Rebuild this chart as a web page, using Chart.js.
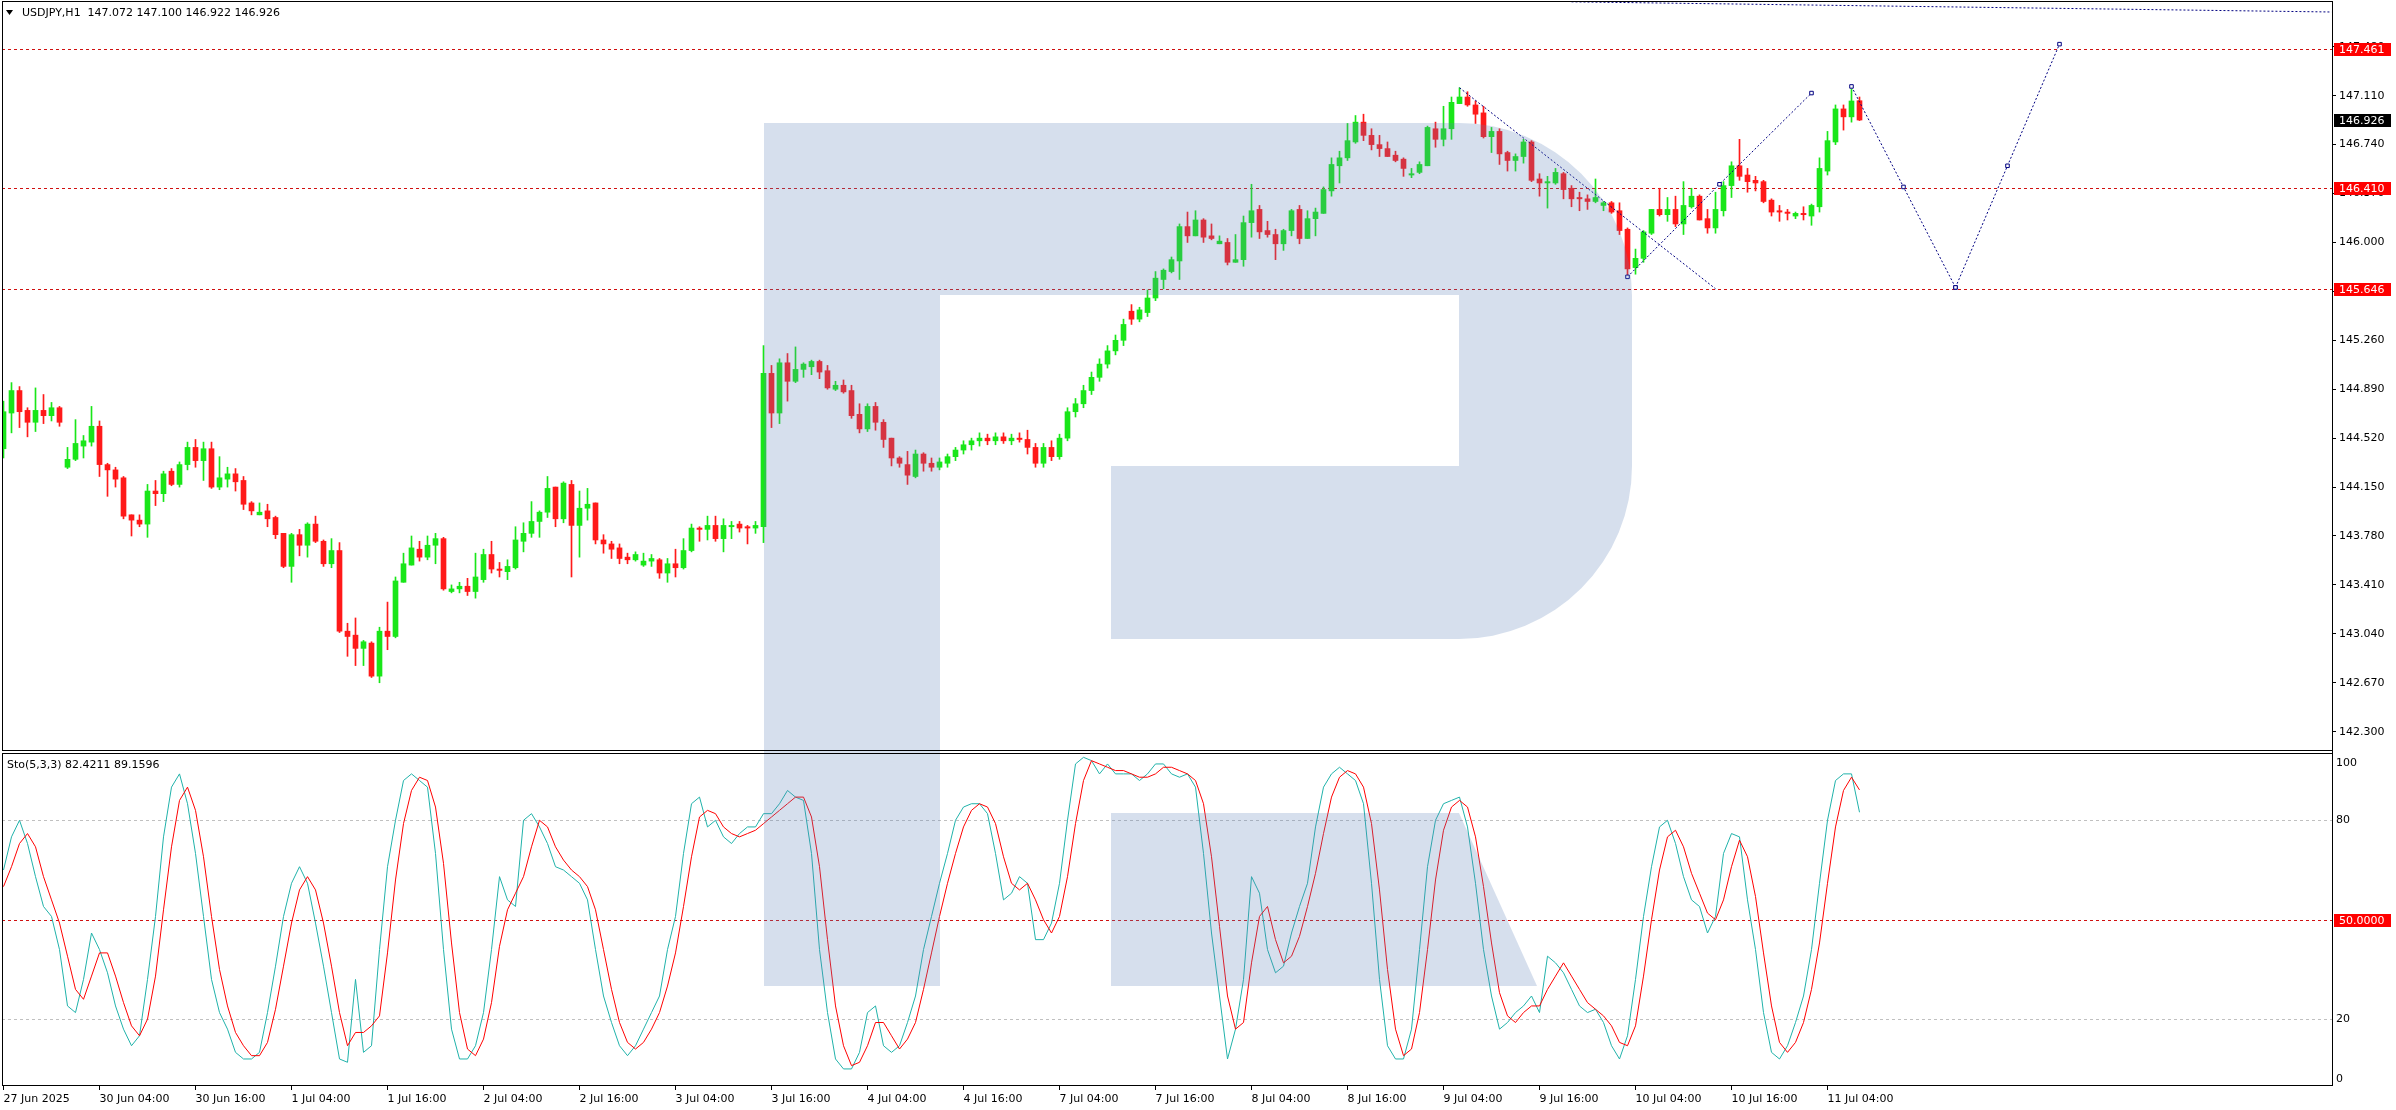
<!DOCTYPE html>
<html>
<head>
<meta charset="utf-8">
<title>USDJPY,H1</title>
<script src="https://cdn.jsdelivr.net/npm/chart.js@4.4.1/dist/chart.umd.min.js"></script>
<style>
html,body{margin:0;padding:0;background:#fff;overflow:hidden;}
#wrap{position:relative;width:2396px;height:1110px;}
canvas{display:block;}
</style>
</head>
<body>
<div id="wrap"><canvas id="chart" width="2396" height="1110"></canvas></div>
<script>
// ================= DATA =================
const symbolName = 'USDJPY,H1';
const headerOHLC = ['147.072', '147.100', '146.922', '146.926'];
const stochName = 'Sto(5,3,3)';
const stochHeaderValues = ['82.4211', '89.1596'];

const xTickLabels = ['27 Jun 2025','30 Jun 04:00','30 Jun 16:00','1 Jul 04:00','1 Jul 16:00','2 Jul 04:00','2 Jul 16:00','3 Jul 04:00','3 Jul 16:00','4 Jul 04:00','4 Jul 16:00','7 Jul 04:00','7 Jul 16:00','8 Jul 04:00','8 Jul 16:00','9 Jul 04:00','9 Jul 16:00','10 Jul 04:00','10 Jul 16:00','11 Jul 04:00'];
const xTickBars = [0,12,24,36,48,60,72,84,96,108,120,132,144,156,168,180,192,204,216,228];

const priceTicks = [142.300,142.670,143.040,143.410,143.780,144.150,144.520,144.890,145.260,145.630,146.000,146.370,146.740,147.110,147.480];
const priceLevels = [147.461, 146.410, 145.646];
const currentPrice = 146.926;

const stochTicks = [0, 20, 80, 100];
const stochGrayLevels = [20, 80];
const stochRedLevels = [50];

const opens = [
144.44,144.71,144.88,144.73,144.64,144.73,144.69,144.75,144.30,144.36,
144.46,144.49,144.61,144.32,144.28,144.22,143.94,143.90,143.87,144.12,
144.10,144.27,144.17,144.32,144.45,144.35,144.44,144.15,144.21,144.25,
144.20,144.03,143.94,143.97,143.92,143.80,143.55,143.79,143.71,143.87,
143.74,143.57,143.67,143.06,143.03,142.93,142.97,142.72,143.06,143.02,
143.43,143.56,143.68,143.62,143.71,143.76,143.36,143.38,143.40,143.36,
143.45,143.64,143.53,143.51,143.54,143.74,143.80,143.89,143.96,144.15,
143.91,144.17,143.86,143.99,144.03,143.75,143.72,143.69,143.62,143.60,
143.56,143.59,143.60,143.50,143.57,143.54,143.67,143.84,143.83,143.86,
143.76,143.85,143.87,143.85,143.84,143.85,145.01,144.71,145.09,144.95,
145.04,145.06,145.10,145.03,144.89,144.92,144.88,144.70,144.59,144.76,
144.64,144.52,144.37,144.32,144.23,144.40,144.33,144.30,144.33,144.38,
144.43,144.47,144.50,144.52,144.50,144.53,144.50,144.52,144.51,144.45,
144.33,144.45,144.38,144.52,144.72,144.78,144.88,144.98,145.08,145.18,
145.26,145.48,145.42,145.47,145.58,145.72,145.78,145.86,146.12,146.05,
146.17,146.05,145.99,146.00,145.85,145.87,146.15,146.25,146.09,146.06,
145.99,146.09,146.25,146.03,146.18,146.22,146.39,146.58,146.64,146.76,
146.91,146.81,146.74,146.71,146.66,146.63,146.51,146.53,146.58,146.86,
146.78,146.86,147.05,147.10,147.04,146.98,146.80,146.84,146.68,146.62,
146.65,146.76,146.48,146.45,146.45,146.52,146.41,146.34,146.33,146.31,
146.28,146.30,146.24,146.10,145.81,145.88,146.07,146.25,146.21,146.25,
146.14,146.27,146.35,146.18,146.11,146.24,146.43,146.58,146.51,146.47,
146.46,146.32,146.24,146.23,146.20,146.22,146.20,146.27,146.54,146.76,
147.01,146.95,147.072];

const highs = [
144.80,144.94,144.91,144.75,144.90,144.85,144.79,144.76,144.45,144.66,
144.54,144.76,144.65,144.33,144.30,144.23,143.94,143.94,144.17,144.20,
144.27,144.29,144.34,144.49,144.51,144.49,144.49,144.38,144.30,144.29,
144.23,144.04,144.03,144.02,143.93,143.80,143.80,143.83,143.88,143.93,
143.75,143.76,143.73,143.12,143.16,142.99,142.98,143.09,143.28,143.47,
143.65,143.78,143.74,143.78,143.80,143.77,143.41,143.43,143.46,143.65,
143.68,143.74,143.58,143.60,143.85,143.88,144.04,143.97,144.23,144.15,
144.19,144.20,144.12,144.14,144.03,143.79,143.74,143.72,143.65,143.66,
143.65,143.64,143.61,143.61,143.68,143.76,143.87,143.85,143.93,143.93,
143.91,143.89,143.89,143.86,143.89,145.22,145.07,145.12,145.16,145.21,
145.09,145.11,145.11,145.07,144.95,144.96,144.92,144.78,144.78,144.79,
144.66,144.52,144.38,144.42,144.43,144.41,144.37,144.37,144.40,144.45,
144.50,144.52,144.56,144.55,144.56,144.56,144.55,144.56,144.58,144.48,
144.48,144.50,144.55,144.75,144.82,144.92,145.02,145.12,145.22,145.30,
145.42,145.53,145.51,145.64,145.78,145.80,145.89,146.14,146.23,146.24,
146.18,146.14,146.05,146.03,146.06,146.20,146.44,146.28,146.16,146.10,
146.10,146.25,146.28,146.24,146.26,146.42,146.64,146.69,146.90,146.96,
146.97,146.86,146.81,146.76,146.69,146.64,146.56,146.61,146.88,146.91,
147.03,147.10,147.17,147.14,147.07,147.03,146.87,146.86,146.69,146.67,
146.78,146.77,146.52,146.50,146.56,146.53,146.43,146.38,146.36,146.48,
146.31,146.31,146.30,146.11,145.95,146.09,146.25,146.41,146.34,146.35,
146.46,146.41,146.36,146.25,146.38,146.46,146.61,146.78,146.56,146.50,
146.47,146.33,146.28,146.25,146.23,146.27,146.29,146.64,146.84,147.04,
147.04,147.16,147.100];

const lows = [
144.37,144.56,144.60,144.53,144.57,144.63,144.65,144.61,144.29,144.35,
144.37,144.46,144.23,144.08,144.15,143.91,143.78,143.85,143.77,144.01,
144.04,144.16,144.15,144.28,144.30,144.20,144.14,144.13,144.15,144.12,
143.98,143.94,143.94,143.85,143.76,143.54,143.43,143.63,143.62,143.73,
143.55,143.54,143.05,142.87,142.80,142.80,142.71,142.67,142.92,143.01,
143.43,143.56,143.59,143.60,143.57,143.37,143.35,143.35,143.33,143.31,
143.43,143.50,143.47,143.45,143.53,143.66,143.77,143.77,143.92,143.85,
143.88,143.47,143.62,143.90,143.72,143.65,143.61,143.57,143.57,143.59,
143.55,143.55,143.46,143.43,143.47,143.53,143.66,143.74,143.75,143.74,
143.66,143.76,143.81,143.72,143.80,143.73,144.60,144.63,144.80,144.94,
144.98,145.00,144.97,144.89,144.88,144.86,144.67,144.56,144.57,144.58,
144.45,144.31,144.30,144.17,144.22,144.27,144.27,144.28,144.30,144.35,
144.40,144.43,144.46,144.47,144.47,144.48,144.47,144.49,144.40,144.30,
144.30,144.35,144.36,144.50,144.68,144.75,144.85,144.95,145.05,145.15,
145.22,145.38,145.40,145.44,145.56,145.65,145.77,145.72,146.00,146.05,
146.00,146.02,145.99,145.83,145.85,145.82,146.04,146.03,146.04,145.87,
145.94,146.05,145.99,146.03,146.05,146.22,146.35,146.45,146.62,146.75,
146.77,146.70,146.65,146.65,146.61,146.50,146.49,146.52,146.58,146.72,
146.73,146.78,147.05,147.03,146.90,146.79,146.68,146.59,146.54,146.54,
146.60,146.46,146.35,146.26,146.44,146.33,146.27,146.24,146.25,146.30,
146.24,146.22,146.06,145.75,145.76,145.85,146.06,146.20,146.16,146.12,
146.06,146.26,146.17,146.07,146.07,146.20,146.34,146.47,146.38,146.39,
146.30,146.20,146.16,146.17,146.18,146.17,146.13,146.23,146.51,146.74,
146.85,146.91,146.922];

const closes = [
144.72,144.88,144.72,144.64,144.73,144.69,144.75,144.64,144.36,144.48,
144.50,144.61,144.32,144.28,144.21,143.93,143.90,143.87,144.12,144.10,
144.25,144.17,144.32,144.45,144.35,144.44,144.15,144.22,144.25,144.19,
144.02,143.97,143.96,143.91,143.79,143.55,143.79,143.71,143.87,143.74,
143.57,143.67,143.06,143.02,142.93,142.98,142.72,143.06,143.02,143.44,
143.57,143.69,143.62,143.71,143.76,143.38,143.38,143.40,143.36,143.47,
143.64,143.53,143.52,143.55,143.75,143.80,143.89,143.96,144.14,143.91,
144.18,143.86,143.99,144.02,143.75,143.72,143.68,143.61,143.60,143.64,
143.59,143.61,143.50,143.57,143.54,143.67,143.84,143.83,143.86,143.76,
143.86,143.86,143.84,143.84,143.86,145.01,144.71,145.09,144.95,145.04,
145.08,145.10,145.02,144.90,144.92,144.87,144.69,144.59,144.76,144.64,
144.51,144.37,144.33,144.24,144.40,144.33,144.30,144.34,144.38,144.43,
144.47,144.50,144.52,144.50,144.53,144.50,144.52,144.51,144.45,144.33,
144.45,144.38,144.52,144.72,144.78,144.88,144.98,145.08,145.18,145.26,
145.38,145.42,145.49,145.58,145.73,145.79,145.87,146.12,146.05,146.17,
146.04,146.03,146.01,145.85,145.87,146.15,146.24,146.08,146.06,145.99,
146.09,146.24,146.03,146.18,146.23,146.40,146.59,146.64,146.77,146.91,
146.81,146.74,146.71,146.65,146.62,146.56,146.52,146.59,146.87,146.78,
146.86,147.06,147.10,147.04,146.97,146.80,146.84,146.67,146.62,146.65,
146.76,146.47,146.45,146.46,146.53,146.40,146.33,146.33,146.31,146.34,
146.30,146.23,146.09,145.80,145.88,146.08,146.25,146.21,146.25,146.14,
146.28,146.35,146.17,146.11,146.25,146.43,146.58,146.50,146.46,146.45,
146.31,146.23,146.23,146.22,146.22,146.21,146.28,146.56,146.77,147.01,
146.95,147.07,146.926];

const stochMain = [
65,75,80,73,63,54,51,41,24,22,32,46,41,34,24,17,12,15,32,51,75,90,94,
85,70,51,32,22,17,10,8,8,10,22,36,51,61,66,61,49,36,22,8,7,
32,10,12,41,66,80,92,94,92,90,70,41,17,8,8,12,22,41,63,56,54,
80,82,78,73,66,65,63,61,56,41,27,19,12,9,12,17,22,27,41,51,70,85,
87,78,80,75,73,76,78,78,82,82,85,89,87,86,70,41,22,8,5,5,10,
22,24,12,10,12,19,27,41,51,61,70,80,84,85,85,82,70,56,58,63,61,
44,44,49,61,80,97,99,98,94,97,94,94,94,92,94,97,97,94,93,94,90,
70,46,27,8,17,32,63,58,41,34,36,46,54,61,78,90,94,96,94,92,85,
61,32,12,8,8,17,41,66,80,85,86,87,78,61,41,27,17,19,22,24,27,22,
39,37,34,29,24,22,23,19,12,8,15,32,51,66,78,80,73,63,56,54,46,
51,70,76,75,56,41,22,10,8,12,19,27,41,61,80,92,94,94,82.42];

const stochSignal = [
60,66,73,76,72,63,56,49,39,29,26,33,40,40,33,25,18,15,20,33,53,72,86,
90,83,69,51,35,24,16,12,9,9,13,23,36,49,59,63,59,49,36,22,12,
16,16,18,21,40,62,79,89,93,92,84,67,43,22,11,9,14,25,42,53,58,
63,72,80,78,72,68,65,63,60,53,41,29,19,13,11,13,17,22,30,40,54,69,
81,83,82,78,76,75,76,77,79,81,83,85,87,87,81,66,44,24,12,6,7,
12,19,19,15,11,14,19,29,40,51,61,70,78,83,85,84,79,69,61,59,61,
56,50,46,51,63,79,92,98,97,96,95,95,94,93,93,94,96,96,95,94,92,
85,69,48,27,17,19,37,51,54,44,37,39,45,54,64,76,87,93,95,94,90,
79,59,35,17,9,11,22,41,62,77,84,86,84,75,60,43,28,21,19,22,24,24,
29,33,37,33,29,25,23,21,18,13,12,18,33,50,65,75,77,72,64,58,52,
50,56,66,74,69,57,40,24,13,10,13,19,29,43,61,78,89,93,89.16];

// analyst objects: (bar index, price); anchors and middle handle of selected lines
const trendDown = [{x:182, y:147.17}, {x:214, y:145.65}];
const trendUp = [{x:203, y:145.74}, {x:214.5, y:146.44}, {x:226, y:147.13}];
const forecastA = [{x:231, y:147.18}, {x:237.5, y:146.42}, {x:244, y:145.66}];
const forecastB = [{x:244, y:145.66}, {x:250.5, y:146.58}, {x:257, y:147.50}];
const topLine = [{x:196, y:147.82}, {x:291, y:147.743}];

// ================= CHART =================
const BULL = '#19e619';
const BEAR = '#ff1a1a';
const NAVY = '#000080';
const FONT = '11px "DejaVu Sans", Tahoma, Verdana, sans-serif';
const candleColors = opens.map((o, i) => closes[i] >= o ? BULL : BEAR);

function fixFit(w, h) {
  return function (s) {
    if (w !== null) s.width = w;
    if (h !== null) s.height = h;
    s.paddingTop = 0; s.paddingBottom = 0; s.paddingLeft = 0; s.paddingRight = 0;
  };
}

const mtPlugin = {
  id: 'mt',
  beforeDatasetsDraw(chart) {
    const {ctx, chartArea: ca, scales} = chart;
    ctx.save();
    ctx.lineWidth = 1;
    ctx.setLineDash([3, 3]);
    const hline = (py, color) => {
      const y = Math.round(py) + 0.5;
      ctx.strokeStyle = color;
      ctx.beginPath(); ctx.moveTo(ca.left, y); ctx.lineTo(ca.right, y); ctx.stroke();
    };
    stochGrayLevels.forEach(v => hline(scales.yS.getPixelForValue(v), '#c0c0c0'));
    stochRedLevels.forEach(v => hline(scales.yS.getPixelForValue(v), '#d01010'));
    priceLevels.forEach(v => hline(scales.y.getPixelForValue(v), '#d01010'));
    ctx.restore();
  },
  afterDatasetsDraw(chart) {
    // broker watermark overlay
    const ctx = chart.ctx;
    ctx.save();
    ctx.fillStyle = 'rgba(91,128,184,0.25)';
    ctx.beginPath();
    ctx.moveTo(764, 123);
    ctx.lineTo(1459, 123);
    ctx.arc(1459, 296, 173, -Math.PI / 2, 0);
    ctx.lineTo(1632, 466);
    ctx.arc(1459, 466, 173, 0, Math.PI / 2);
    ctx.lineTo(1111, 639);
    ctx.lineTo(1111, 466);
    ctx.lineTo(1459, 466);
    ctx.lineTo(1459, 295);
    ctx.lineTo(940, 295);
    ctx.lineTo(940, 986);
    ctx.lineTo(764, 986);
    ctx.closePath();
    ctx.moveTo(1111, 813);
    ctx.lineTo(1459, 813);
    ctx.lineTo(1537, 986);
    ctx.lineTo(1111, 986);
    ctx.closePath();
    ctx.fill();
    ctx.restore();
  },
  afterDraw(chart) {
    const {ctx, chartArea: ca, scales} = chart;
    const y = scales.y, ys = scales.yS;
    ctx.save();
    ctx.setLineDash([]);
    ctx.strokeStyle = '#000';
    ctx.lineWidth = 1;
    ctx.strokeRect(ca.left + 0.5, y.top + 0.5, ca.right - ca.left - 1, y.bottom - y.top - 1);
    ctx.strokeRect(ca.left + 0.5, ys.top + 2.5, ca.right - ca.left - 1, ys.bottom - ys.top - 3);
    ctx.beginPath(); ctx.moveTo(ca.right - 0.5, ca.top); ctx.lineTo(ca.right - 0.5, ca.bottom); ctx.stroke();

    ctx.font = FONT;
    ctx.textBaseline = 'middle';
    ctx.textAlign = 'left';
    ctx.fillStyle = '#000';
    stochTicks.forEach(v => {
      let py = ys.getPixelForValue(v);
      py = Math.min(Math.max(py, ys.top + 12), ys.bottom - 7);
      ctx.fillText(String(v), ca.right + 3, py);
    });
    const box = (py, text, bg) => {
      const top = Math.round(py) - 6;
      ctx.fillStyle = bg;
      ctx.fillRect(ca.right + 1, top, 57, 13);
      ctx.fillStyle = '#fff';
      ctx.fillText(text, ca.right + 6, top + 7);
    };
    priceLevels.forEach(v => box(y.getPixelForValue(v), v.toFixed(3), '#ff0000'));
    stochRedLevels.forEach(v => box(ys.getPixelForValue(v), v.toFixed(4), '#ff0000'));
    box(y.getPixelForValue(currentPrice), currentPrice.toFixed(3), '#000000');

    ctx.fillStyle = '#000';
    ctx.beginPath(); ctx.moveTo(6, 10); ctx.lineTo(13, 10); ctx.lineTo(9.5, 15); ctx.closePath(); ctx.fill();
    ctx.fillText(symbolName + '  ' + headerOHLC.join(' '), 22, 13);
    ctx.fillText(stochName + ' ' + stochHeaderValues.join(' '), 7, ys.top + 14);
    ctx.restore();
  }
};

const axisFont = {family: '"DejaVu Sans", Tahoma, Verdana, sans-serif', size: 11};

function objLine(label, data, handles) {
  return {
    type: 'line', label, data, yAxisID: 'y', xAxisID: 'x',
    borderColor: NAVY, borderWidth: 1, borderDash: [2, 2], fill: false, tension: 0,
    pointRadius: handles ? 2.5 : 0, pointStyle: 'rect',
    pointBackgroundColor: '#ffffff', pointBorderColor: NAVY, pointBorderWidth: 1
  };
}

const cfg = {
  type: 'bar',
  data: {
    datasets: [
      objLine('trendDown', trendDown, false),
      objLine('trendUp', trendUp, true),
      objLine('forecastA', forecastA, true),
      objLine('forecastB', forecastB, true),
      objLine('topLine', topLine, false),
      {
        type: 'line', label: 'Signal', yAxisID: 'yS', xAxisID: 'x',
        data: stochSignal.map((v, i) => ({x: i, y: v})),
        borderColor: '#ff0000', borderWidth: 1, pointRadius: 0, tension: 0, fill: false
      },
      {
        type: 'line', label: 'Main', yAxisID: 'yS', xAxisID: 'x',
        data: stochMain.map((v, i) => ({x: i, y: v})),
        borderColor: '#20b2aa', borderWidth: 1, pointRadius: 0, tension: 0, fill: false
      },
      {
        type: 'bar', label: 'body', yAxisID: 'y', xAxisID: 'x',
        data: opens.map((o, i) => ({x: i, y: [o, closes[i]]})),
        backgroundColor: candleColors, borderWidth: 0, barThickness: 5, minBarLength: 1, grouped: false
      },
      {
        type: 'bar', label: 'wick', yAxisID: 'y', xAxisID: 'x',
        data: lows.map((l, i) => ({x: i, y: [l, highs[i]]})),
        backgroundColor: candleColors, borderWidth: 0, barThickness: 1, minBarLength: 1, grouped: false
      }
    ]
  },
  options: {
    responsive: false,
    animation: false,
    devicePixelRatio: 1,
    events: [],
    layout: {padding: {left: 2, top: 1, right: 0, bottom: 0}, autoPadding: false},
    plugins: {legend: {display: false}, tooltip: {enabled: false}},
    scales: {
      x: {
        type: 'linear', position: 'bottom', offset: false,
        min: -0.1875, max: 291.1875,
        afterBuildTicks: (s) => { s.ticks = xTickBars.map(v => ({value: v})); },
        afterFit: fixFit(null, 24),
        ticks: {
          autoSkip: false, maxRotation: 0, minRotation: 0, align: 'start', padding: 3,
          color: '#000', font: axisFont,
          callback: (v, idx) => xTickLabels[idx]
        },
        grid: {display: true, drawOnChartArea: false, drawTicks: true, tickLength: 4, color: '#000', offset: false},
        border: {display: false}
      },
      y: {
        type: 'linear', position: 'right', stack: 'panels', stackWeight: 750,
        min: 142.1539, max: 147.8262,
        afterBuildTicks: (s) => { s.ticks = priceTicks.map(v => ({value: v})); },
        afterFit: fixFit(63, null),
        ticks: {padding: 3, color: '#000', font: axisFont, callback: (v) => Number(v).toFixed(3)},
        grid: {display: true, drawOnChartArea: false, drawTicks: true, tickLength: 3, color: '#000'},
        border: {display: false}
      },
      yS: {
        type: 'linear', position: 'right', stack: 'panels', stackWeight: 335,
        min: -0.151, max: 100.905,
        afterBuildTicks: (s) => { s.ticks = stochTicks.map(v => ({value: v})); },
        afterFit: fixFit(63, null),
        ticks: {display: false},
        grid: {display: false},
        border: {display: false}
      }
    }
  },
  plugins: [mtPlugin]
};

new Chart(document.getElementById('chart'), cfg);
</script>
</body>
</html>
